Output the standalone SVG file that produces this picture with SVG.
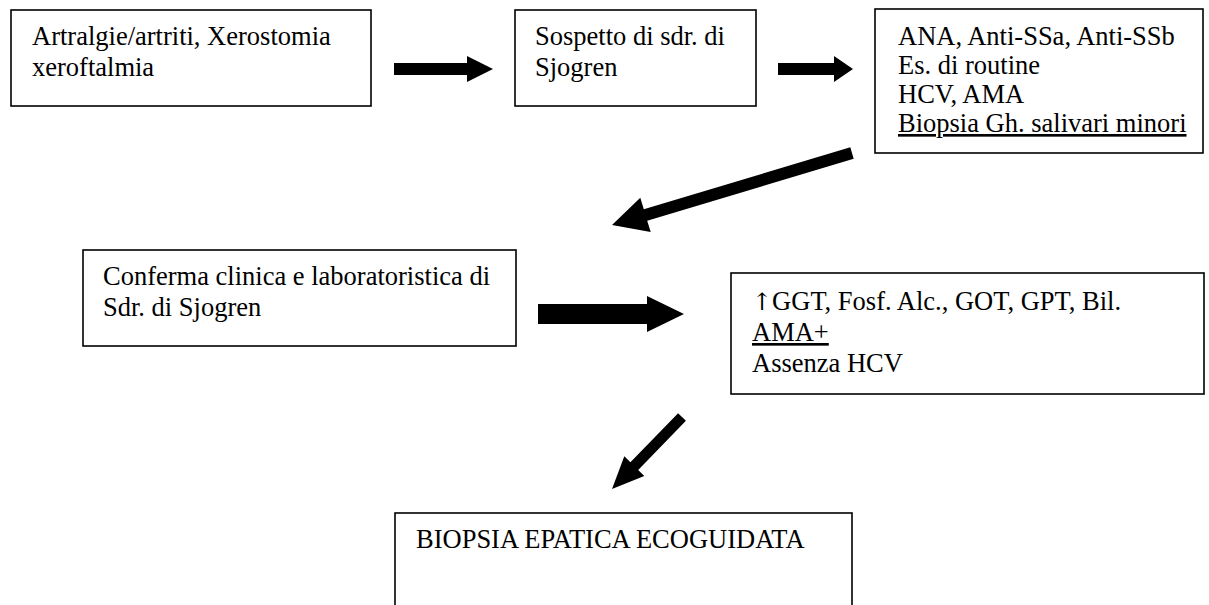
<svg xmlns="http://www.w3.org/2000/svg" width="1209" height="605" viewBox="0 0 1209 605">
<style>
.box{fill:#fff;stroke:#000;stroke-width:1.6}
.t{font-family:"Liberation Serif","DejaVu Serif",serif;font-size:26.5px;fill:#000}
.sym{font-family:"DejaVu Serif","DejaVu Sans",serif;font-size:24px}
.u{text-decoration:underline}
.arr{fill:#000;stroke:none}
</style>
<rect width="1209" height="605" fill="#fff"/>
<g id="n1">
<rect class="box" x="11" y="10" width="360" height="96"/>
<text class="t" x="32" y="45">Artralgie/artriti, Xerostomia</text>
<text class="t" x="32" y="76">xeroftalmia</text>
</g>
<g id="n2">
<rect class="box" x="515" y="10" width="241" height="96"/>
<text class="t" x="535" y="45">Sospetto di sdr. di</text>
<text class="t" x="535" y="76">Sjogren</text>
</g>
<g id="n3">
<rect class="box" x="875" y="9" width="328" height="144"/>
<text class="t" x="898" y="45">ANA, Anti-SSa, Anti-SSb</text>
<text class="t" x="898" y="74">Es. di routine</text>
<text class="t" x="898" y="103">HCV, AMA</text>
<text class="t u" x="898" y="132">Biopsia Gh. salivari minori</text>
</g>
<g id="n4">
<rect class="box" x="83" y="250" width="433" height="96"/>
<text class="t" x="103" y="285">Conferma clinica e laboratoristica di</text>
<text class="t" x="103" y="316">Sdr. di Sjogren</text>
</g>
<g id="n5">
<rect class="box" x="731" y="273" width="473" height="121"/>
<text class="t" x="752" y="310"><tspan class="sym">↑&#xFE0E;</tspan>GGT, Fosf. Alc., GOT, GPT, Bil.</text>
<text class="t u" x="752" y="341">AMA+</text>
<text class="t" x="752" y="372">Assenza HCV</text>
</g>
<g id="n6">
<rect class="box" x="395" y="513" width="457" height="110"/>
<text class="t" x="416" y="548">BIOPSIA EPATICA ECOGUIDATA</text>
</g>
<g id="connectors">
<polygon class="arr" points="394,63 467,63 467,56 493,69 467,82 467,75 394,75"/>
<polygon class="arr" points="778,63 834,63 834,56 853,69 834,82 834,75 778,75"/>
<polygon class="arr" points="850.3,147.3 643.8,209.2 640.3,197.7 612,225 650.7,232.1 647.2,220.7 853.7,158.7"/>
<polygon class="arr" points="538,304 647,304 647,296 684,314 647,332 647,324 538,324"/>
<polygon class="arr" points="678.1,413.2 630.4,462.3 624.3,456.3 612,489 644.3,475.9 638.2,469.9 685.9,420.8"/>
</g>
</svg>
